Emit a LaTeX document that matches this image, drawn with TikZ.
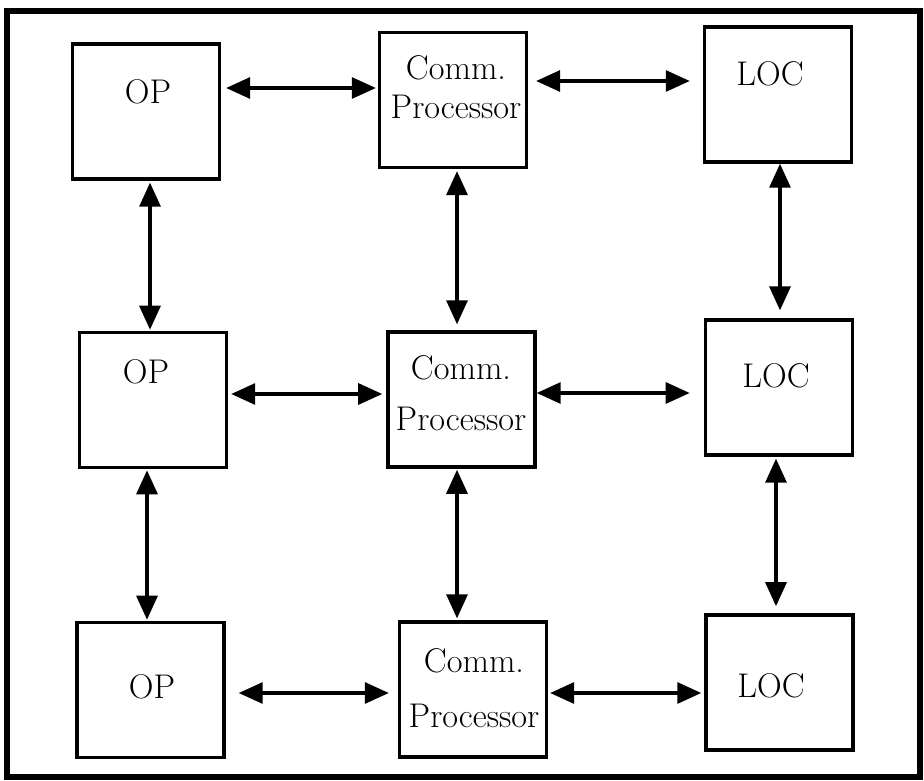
\documentclass[tikz,border=0pt]{standalone}
\usetikzlibrary{arrows.meta}
\begin{document}
\begin{tikzpicture}[x=0.02cm,y=-0.02cm,
                    unit/.style={draw,line width=2pt,minimum width=2.94cm,minimum height=2.7cm,inner sep=0pt},
                    name text/.style={font=\fontsize{19.5}{22}\selectfont,inner sep=0pt,align=center},
                    link/.style={line width=1.8pt,{Triangle[length=4.8mm,width=4.2mm]}-{Triangle[length=4.8mm,width=4.2mm]}}
                   ]
  \useasboundingbox (0,0) rectangle (924,781);
  \draw[line width=3pt] (7,11) rectangle (920,777); % frame
  \node[unit] (op1) at (146,111.5) {};
  \node[unit] (cp1) at (453,100) {};
  \node[unit] (loc1) at (778,94.5) {};
  \node[unit] (op2) at (153,400) {};
  \node[unit] (cp2) at (461.5,399.5) {};
  \node[unit] (loc2) at (779,387.5) {};
  \node[unit] (op3) at (150.5,690) {};
  \node[unit] (cp3) at (473,689.5) {};
  \node[unit] (loc3) at (779.5,682.5) {};
  % labels
  \node[name text,anchor=base] (op1t) at (148,103) {OP};
  \node[name text,anchor=base] (op2t) at (146,383) {OP};
  \node[name text,anchor=base] (op3t) at (152,698) {OP};
  \node[name text,anchor=base] (loc1t) at (770,85) {LOC};
  \node[name text,anchor=base] (loc2t) at (776,387) {LOC};
  \node[name text,anchor=base] (loc3t) at (771,697) {LOC};
  \node[name text] (cp1t) at (456,87) {Comm.\\Processor};
  \node[name text] (cp2t) at (461,393) {Comm.\\[7pt]Processor};
  \node[name text] (cp3t) at (474,688) {Comm.\\[9pt]Processor};
  \path[link]%
    (op1.east |- 0,88) edge[shorten <=2.8pt,shorten >=1.1pt] (cp1.west |- 0,88)
    (cp1.east |- 0,81) edge[shorten <=4.5pt,shorten >=7.4pt] (loc1.west |- 0,81)
    (op1.south -| 150,0) edge[shorten <=1.1pt,shorten >=0.6pt] (op2.north -| 150,0)
    (cp1.south -| 457,0) edge[shorten <=1.1pt,shorten >=3.4pt] (cp2.north -| 457,0)
    (loc1.south -| 780,0) edge[shorten >=4.5pt] (loc2.north -| 780,0)
    (op2.east |- 0,394) edge[shorten <=1.7pt,shorten >=2.3pt] (cp2.west |- 0,394)
    (cp2.east |- 0,393) edge[shorten >=8pt] (loc2.west |- 0,393)
    (op2.south -| 147,0) edge[shorten <=0.6pt,shorten >=0.6pt] (op3.north -| 147,0)
    (cp2.south -| 457,0) edge[shorten <=0.6pt,shorten >=1.1pt] (cp3.north -| 457,0)
    (loc2.south -| 776,0) edge[shorten <=1.1pt,shorten >=4pt] (loc3.north -| 776,0)
    (op3.east |- 0,693) edge[shorten <=7.4pt,shorten >=5.1pt] (cp3.west |- 0,693)
    (cp3.east |- 0,693) edge[shorten <=1.1pt,shorten >=1.7pt] (loc3.west |- 0,693);
\end{tikzpicture}
\end{document}
